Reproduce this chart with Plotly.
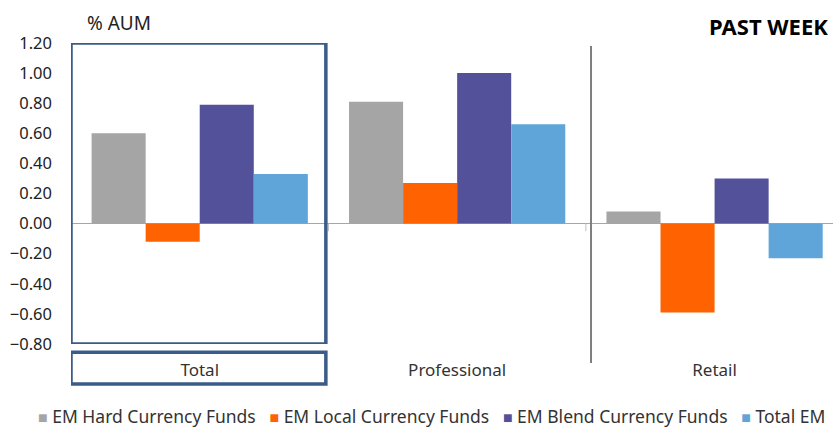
import plotly.graph_objects as go

# investor types on the x axis
categories = ["Total", "Professional", "Retail"]

# weekly flows, % of AUM
hard_currency = [0.60, 0.81, 0.08]
local_currency = [-0.12, 0.27, -0.59]
blend_currency = [0.79, 1.00, 0.30]
total_em = [0.33, 0.66, -0.23]

series_names = [
    "EM Hard Currency Funds",
    "EM Local Currency Funds",
    "EM Blend Currency Funds",
    "Total EM",
]
series_colours = ["#A5A5A5", "#FF6200", "#525199", "#5FA5D9"]

y_ticks = [-0.8, -0.6, -0.4, -0.2, 0.0, 0.2, 0.4, 0.6, 0.8, 1.0, 1.2]

font_family = "Noto Sans"
box_colour = "#3B5B88"

fig = go.Figure()

for name, values, colour in zip(
    series_names,
    [hard_currency, local_currency, blend_currency, total_em],
    series_colours,
):
    fig.add_trace(
        go.Bar(
            x=categories,
            y=values,
            name=name,
            marker={"color": colour, "line": {"width": 0}},
        )
    )

# divider between professional and retail
fig.add_shape(
    type="line", xref="x", yref="paper",
    x0=1.52, x1=1.52, y0=0.99, y1=-0.063,
    line={"color": "#7F7F7F", "width": 2},
)
# small category tick marks under the zero line
for xb in [0.5, 1.5]:
    fig.add_shape(
        type="line", xref="x", yref="y",
        x0=xb, x1=xb, y0=0, y1=-0.05,
        line={"color": "#BFBFBF", "width": 1},
    )
# highlight boxes around the Total group and its label
fig.add_shape(
    type="rect", xref="x", yref="y",
    x0=-0.5, x1=0.49, y0=-0.8, y1=1.2,
    line={"color": box_colour, "width": 3.5},
)
fig.add_shape(
    type="rect", xref="x", yref="paper",
    x0=-0.5, x1=0.49, y0=-0.027, y1=-0.133,
    line={"color": box_colour, "width": 3.5},
)

fig.add_annotation(
    text="% AUM", xref="paper", yref="paper",
    x=0.018, y=1.015, xanchor="left", yanchor="bottom",
    showarrow=False, font={"size": 19, "color": "#222222"},
)
fig.add_annotation(
    text="<b>PAST WEEK</b>", xref="paper", yref="paper",
    x=0.996, y=1.0, xanchor="right", yanchor="bottom",
    showarrow=False, font={"size": 22, "color": "#000000"},
)

# compact legend line under the chart
legend_text = "   ".join(
    f"<span style='color:{c};font-size:16px'>■</span> {n}"
    for n, c in zip(series_names, series_colours)
)
fig.add_annotation(
    text=legend_text, xref="paper", yref="paper",
    x=0.473, y=-0.238, xanchor="center", yanchor="middle",
    showarrow=False, font={"size": 17.5, "color": "#333333"},
)

fig.update_layout(
    width=833,
    height=430,
    margin={"l": 71, "r": 0, "t": 43, "b": 86},
    paper_bgcolor="white",
    plot_bgcolor="white",
    font={"family": font_family, "size": 14, "color": "#333333"},
    barmode="group",
    bargap=0.16,
    bargroupgap=0,
    showlegend=False,
    xaxis={
        "range": [-0.5, 2.46],
        "showline": False,
        "showgrid": False,
        "ticks": "",
        "tickfont": {"size": 17},
        "ticklabelstandoff": 14,
    },
    yaxis={
        "range": [-0.8, 1.2],
        "tickvals": y_ticks,
        "tickformat": ".2f",
        "showgrid": False,
        "showline": False,
        "zeroline": True,
        "zerolinecolor": "#A6A6A6",
        "zerolinewidth": 1,
        "tickfont": {"size": 16.5, "color": "#222222"},
        "ticks": "",
        "ticklabelstandoff": 18,
    },
)

fig.write_html(
    "out.html",
    config={"displayModeBar": False},
    post_script="document.body.style.margin='0';",
)
